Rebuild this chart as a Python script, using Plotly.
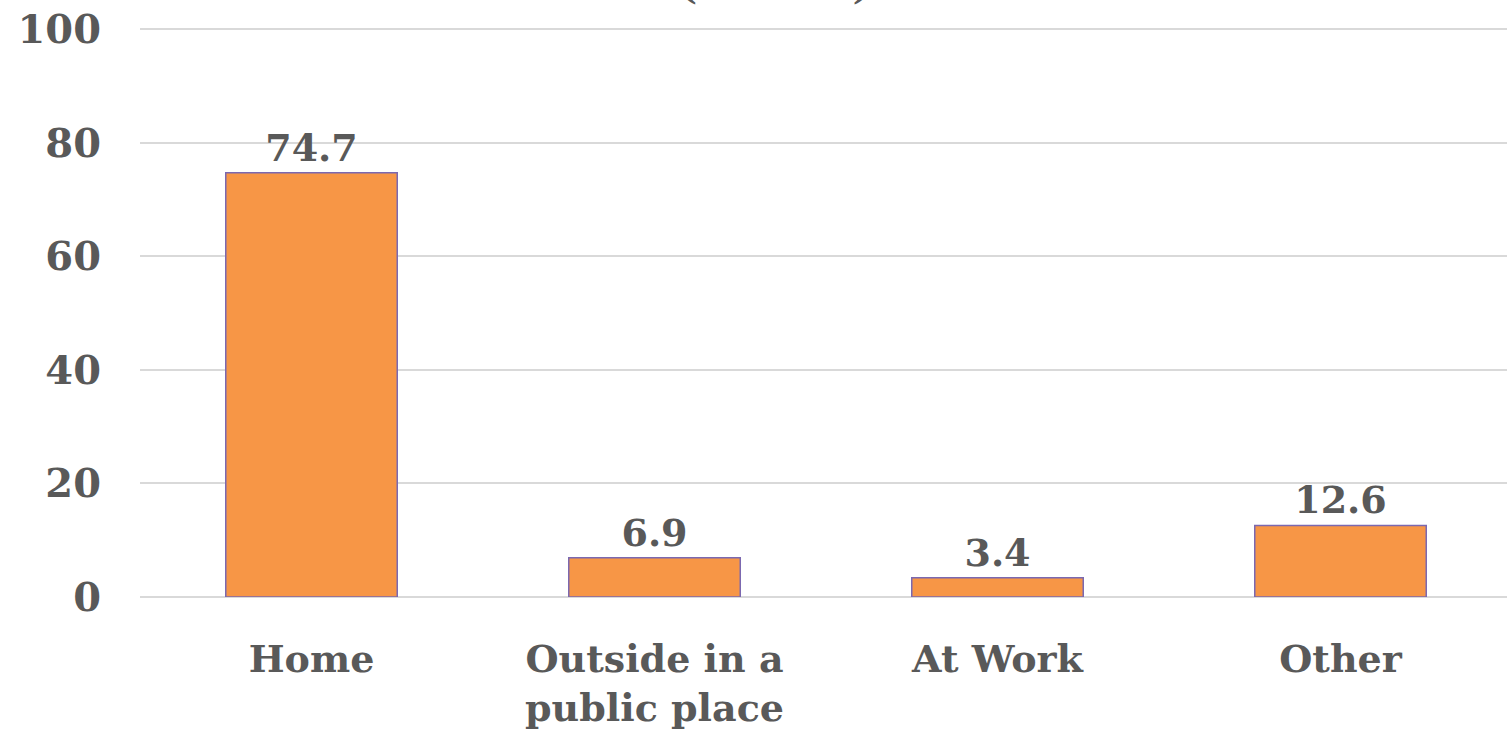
import plotly.graph_objects as go

categories = ["Home", "Outside in a<br>public place", "At Work", "Other"]
values = [74.7, 6.9, 3.4, 12.6]
value_labels = ["74.7", "6.9", "3.4", "12.6"]
y_ticks = [0, 20, 40, 60, 80, 100]
title_text = "(Percent)"

FONT = "DejaVu Serif"
GREY = "#595959"

fig = go.Figure(
    go.Bar(
        x=categories,
        y=values,
        text=value_labels,
        textposition="outside",
        cliponaxis=False,
        textfont=dict(family=FONT, size=38, color=GREY, weight="bold"),
        marker=dict(color="#F79646", line=dict(color="#7B68B0", width=1.5)),
    )
)

fig.update_layout(
    width=1512,
    height=738,
    margin=dict(l=140, r=0, t=28, b=141, autoexpand=False),
    paper_bgcolor="white",
    plot_bgcolor="white",
    bargap=0.5,
    showlegend=False,
    font=dict(family=FONT, color=GREY, size=38, weight="bold"),
    annotations=[
        dict(
            text=title_text,
            xref="paper", yref="paper",
            x=(775 - 140) / 1372, y=1,
            xanchor="center", yanchor="bottom",
            yshift=19,
            showarrow=False,
            font=dict(family=FONT, size=36, color=GREY, weight="bold"),
        )
    ],
)

fig.update_yaxes(
    range=[0, 100.2],
    tickvals=y_ticks,
    automargin=False,
    ticklabeloverflow="allow",
    showgrid=True,
    gridcolor="#D9D9D9",
    gridwidth=1.5,
    zeroline=True,
    zerolinecolor="#D9D9D9",
    zerolinewidth=1.5,
    showline=False,
    ticklabelstandoff=38,
    tickfont=dict(family=FONT, size=40, color=GREY, weight="bold"),
)
fig.update_xaxes(
    automargin=False,
    showgrid=False,
    showline=False,
    ticklabelstandoff=36,
    tickfont=dict(family=FONT, size=38, color=GREY, weight="bold"),
)

fig.write_html(
    "out.html",
    config={"displayModeBar": False},
    post_script="document.body.style.margin='0';document.body.style.overflow='hidden';",
)
